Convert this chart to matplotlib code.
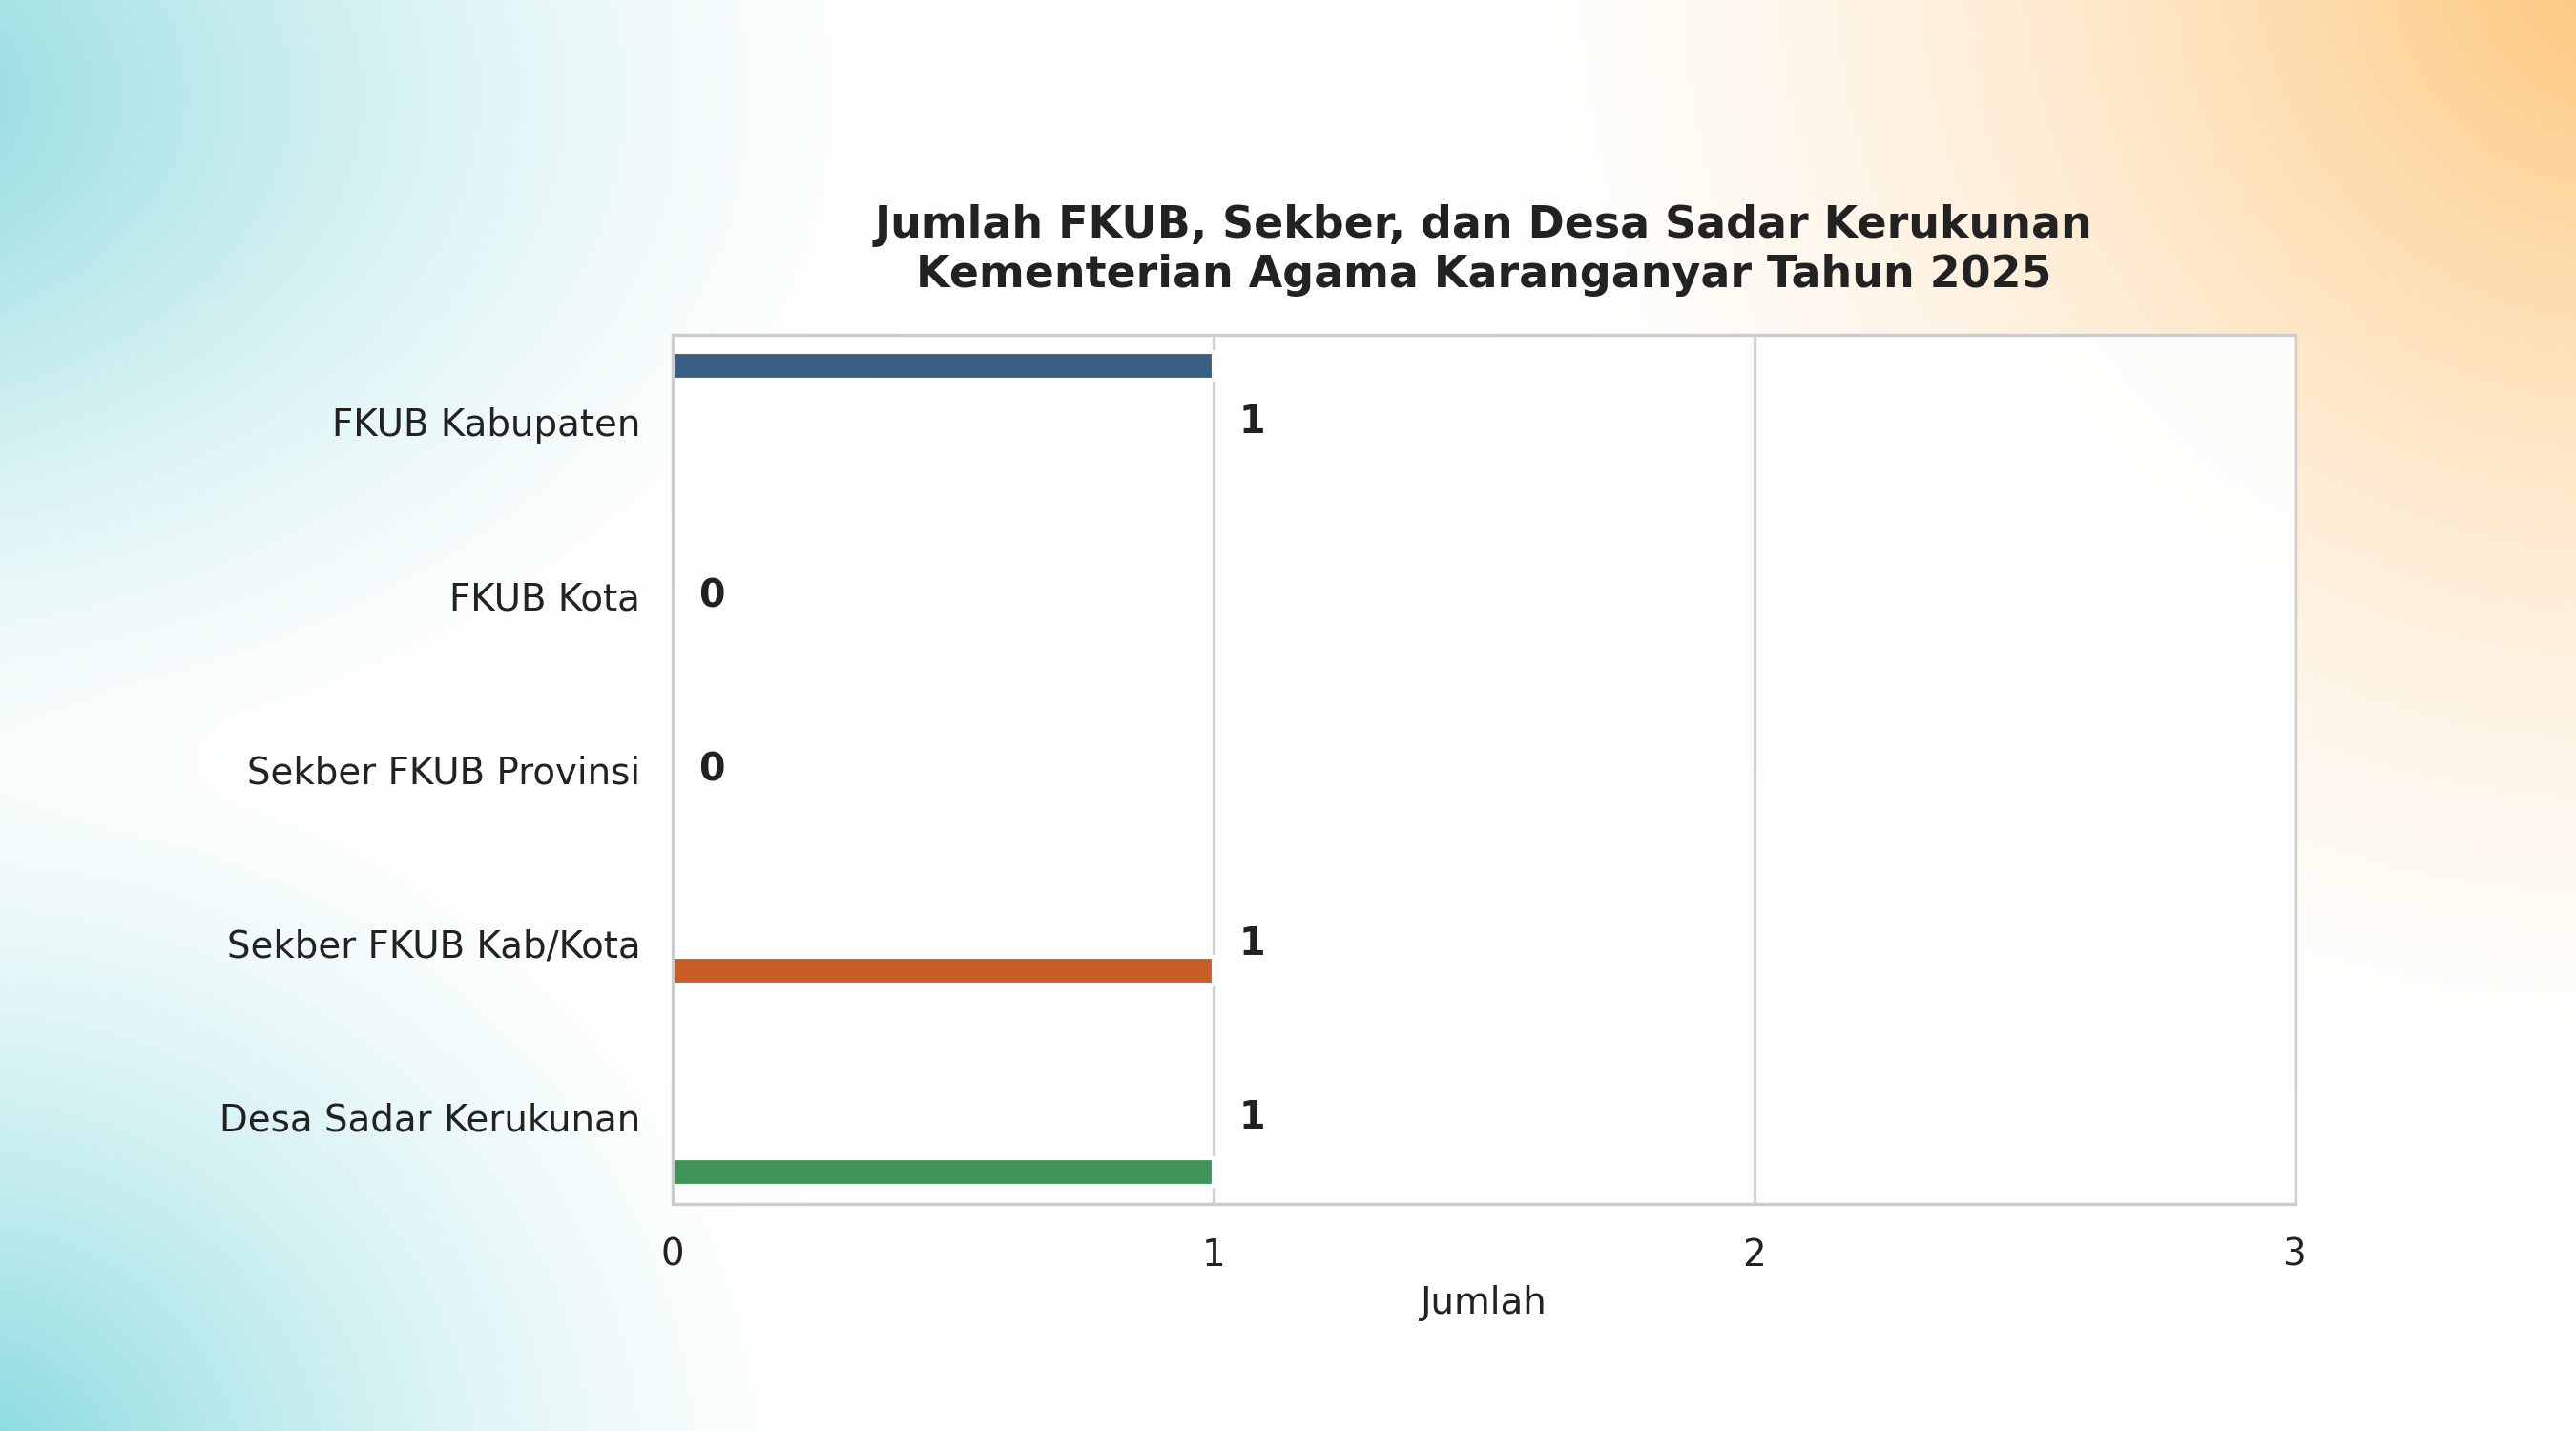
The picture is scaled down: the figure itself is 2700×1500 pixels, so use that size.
import numpy as np
import matplotlib
matplotlib.use("Agg")
import matplotlib.pyplot as plt

# data
categories = [
    "FKUB Kabupaten",
    "FKUB Kota",
    "Sekber FKUB Provinsi",
    "Sekber FKUB Kab/Kota",
    "Desa Sadar Kerukunan",
]
values = [1, 0, 0, 1, 1]
bar_colors = ["#3a5d84", "#7b6ba8", "#d9a441", "#c95d28", "#40945a"]
x_ticks = [0, 1, 2, 3]
title = "Jumlah FKUB, Sekber, dan Desa Sadar Kerukunan\nKementerian Agama Karanganyar Tahun 2025"
x_label = "Jumlah"

plt.rcParams["font.family"] = ["DejaVu Sans"]
text_color = "#222222"

W, H = 2700, 1500
fig = plt.figure(figsize=(9, 5), dpi=300)


def blend(img, color, cx, cy, rx, ry, power=1.6):
    yy, xx = np.mgrid[0:H, 0:W]
    d = np.sqrt(((xx - cx) / rx) ** 2 + ((yy - cy) / ry) ** 2)
    w = np.clip(1 - d, 0, 1) ** power
    c = np.array(matplotlib.colors.to_rgb(color))
    return img * (1 - w[..., None]) + c * w[..., None]


# soft background glows
bg = np.ones((H, W, 3))
bg = blend(bg, "#7fd6da", -200, 100, 1200, 800)
bg = blend(bg, "#7fd8dc", -50, 1550, 950, 850)
bg = blend(bg, "#fdc577", 2750, -50, 1250, 1250)

bg_ax = fig.add_axes([0, 0, 1, 1], zorder=-1)
bg_ax.imshow(bg, aspect="auto", extent=[0, W, H, 0])
bg_ax.axis("off")

ax = fig.add_axes([0.261, 0.159, 0.630, 0.607])
ax.set_facecolor((1, 1, 1, 0.88))

# dodge like a hue-grouped barplot: one slot per category inside each group
n = len(categories)
slot = 0.8 / n
for i, (cat, val, col) in enumerate(zip(categories, values, bar_colors)):
    offset = (i - (n - 1) / 2) * slot
    if val > 0:
        ax.barh(i + offset, val, height=slot, color=col,
                edgecolor="white", linewidth=1.0, zorder=2)
    ax.annotate(str(val), xy=(val, i), xytext=(6.5, -0.3), textcoords="offset points",
                ha="left", va="center", fontsize=9.5, fontweight="bold",
                color=text_color, zorder=3)

ax.set_yticks(range(n))
ax.set_yticklabels(categories)
ax.set_ylim(n - 0.5, -0.5)
ax.set_xlim(x_ticks[0], x_ticks[-1])
ax.set_xticks(x_ticks)

ax.grid(axis="x", color="#d2d2d2", linewidth=0.8, zorder=0)
ax.set_axisbelow(True)
for s in ax.spines.values():
    s.set_color("#cccccc")
    s.set_linewidth(0.8)

ax.tick_params(axis="both", length=0, labelsize=9.3, labelcolor=text_color)
ax.tick_params(axis="y", pad=8)
ax.tick_params(axis="x", pad=8.5)
ax.set_xlabel(x_label, fontsize=9.3, color=text_color, labelpad=3)
ax.set_title(title, fontsize=11, fontweight="bold", color=text_color,
             pad=12, linespacing=1.2)

fig.savefig("out.png", dpi=300)
